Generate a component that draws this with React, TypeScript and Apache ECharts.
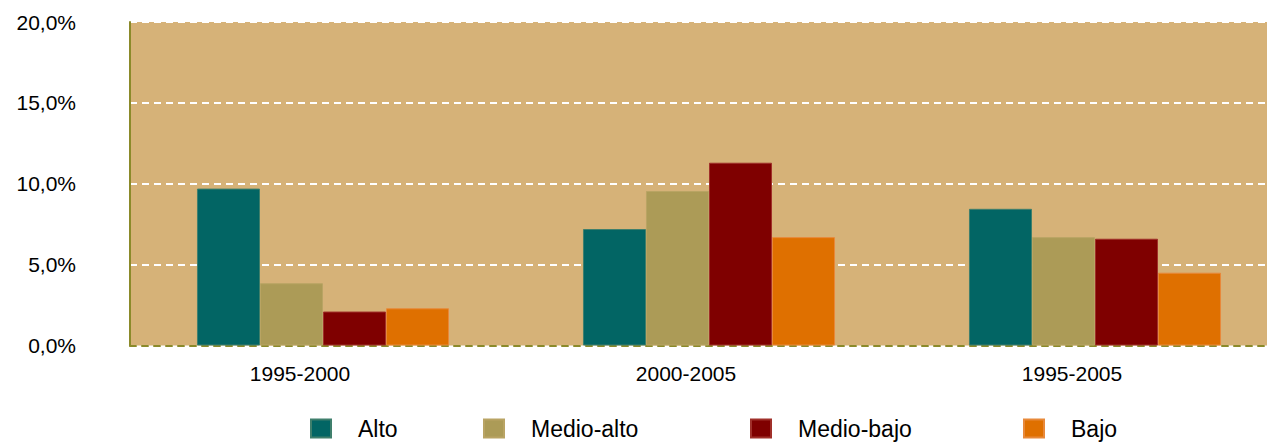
import React, { useEffect, useRef } from "react";
import * as echarts from "echarts";

const categories = ["1995-2000", "2000-2005", "1995-2005"];
const seriesNames = ["Alto", "Medio-alto", "Medio-bajo", "Bajo"];
const alto = [9.7, 7.2, 8.45];
const medioAlto = [3.85, 9.55, 6.7];
const medioBajo = [2.1, 11.3, 6.6];
const bajo = [2.3, 6.7, 4.5];
const seriesValues = [alto, medioAlto, medioBajo, bajo];
const colors = ["#026564", "#AC9B57", "#7F0000", "#DF7000"];
const borders = ["#3f7f6c", "#b9a464", "#a0302a", "#e8893a"];
const legendLeft = [310, 483, 750, 1023];

export default function App() {
  const ref = useRef<HTMLDivElement>(null);
  useEffect(() => {
    document.body.style.margin = "0";
    const chart = echarts.init(ref.current!, null, { renderer: "svg" });
    const font = "'Liberation Sans', Arial, sans-serif";
    chart.setOption({
      animation: false,
      grid: {
        left: 130,
        top: 22,
        width: 1158,
        height: 323.5,
        show: true,
        backgroundColor: "#D6B278",
        borderWidth: 0,
      },
      legend: seriesNames.map((n, i) => ({
        data: [n],
        left: legendLeft[i],
        top: 417,
        padding: 0,
        itemWidth: 20,
        itemHeight: 18,
        icon: "rect",
        textStyle: {
          fontFamily: font,
          fontSize: 23,
          lineHeight: 23,
          color: "#000",
          padding: [0, 0, 0, 22],
        },
      })),
      xAxis: {
        type: "category",
        data: categories,
        axisLine: { show: true, lineStyle: { color: "#8B8A2A", width: 2, type: [6, 6] } },
        axisTick: { show: false },
        axisLabel: {
          fontFamily: font,
          fontSize: 21,
          color: "#000",
          margin: 17,
          padding: [0, 46, 0, 0],
        },
      },
      yAxis: {
        type: "value",
        min: 0,
        max: 20,
        interval: 5,
        axisLine: { show: true, lineStyle: { color: "#8B8A2A", width: 2 } },
        axisTick: { show: false },
        splitLine: { show: true, lineStyle: { color: "#ffffff", width: 2, type: [7, 5] } },
        axisLabel: {
          fontFamily: font,
          fontSize: 21,
          color: "#000",
          margin: 54,
          formatter: (v: number) => v.toFixed(1).replace(".", ",") + "%",
        },
      },
      series: seriesNames.map((n, i) => ({
        name: n,
        type: "bar",
        data: seriesValues[i],
        barGap: "0%",
        barCategoryGap: "34.7%",
        itemStyle: { color: colors[i], borderColor: borders[i], borderWidth: 1 },
      })),
    });
    return () => chart.dispose();
  }, []);
  return (
    <div style={{ width: 1267, height: 443, overflow: "hidden" }}>
      <div ref={ref} style={{ width: 1290, height: 443 }} />
    </div>
  );
}
